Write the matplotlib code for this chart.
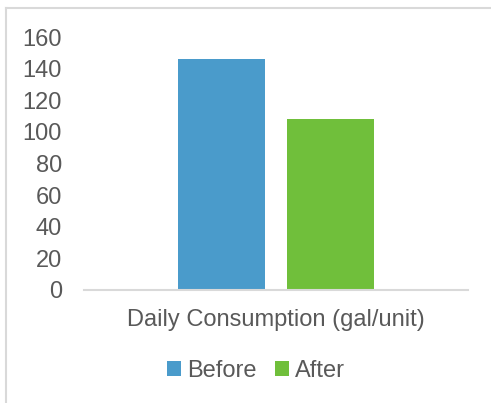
import matplotlib.pyplot as plt
from matplotlib.lines import Line2D

category = "Daily Consumption (gal/unit)"
series = ["Before", "After"]
values = [146, 108]
colors = ["#4A9BCB", "#70BF3B"]
yticks = [0, 20, 40, 60, 80, 100, 120, 140, 160]

plt.rcParams['font.family'] = ['Liberation Sans', 'DejaVu Sans']
text_color = "#595959"
fs = 17

fig = plt.figure(figsize=(4.91, 4.03), dpi=100)
ax = fig.add_axes([84/491, 1 - 290/403, 384/491, 253/403])

width = 87/384
offsets = [-0.142, 0.142]
for name, val, col, off in zip(series, values, colors, offsets):
    ax.bar(off, val, width=width, color=col, label=name)

ax.set_xlim(-0.5, 0.5)
ax.set_ylim(0, 160)
ax.set_yticks(yticks)
ax.set_yticklabels([str(t) for t in yticks], fontsize=fs, color=text_color)
ax.tick_params(axis='y', length=0, pad=16)
ax.set_xticks([0])
ax.set_xticklabels([category], fontsize=fs, color=text_color)
ax.tick_params(axis='x', length=0, pad=14)

for s in ['top', 'right', 'left']:
    ax.spines[s].set_visible(False)
ax.spines['bottom'].set_color("#D9D9D9")
ax.spines['bottom'].set_linewidth(1.5)

leg = fig.legend(loc='center', bbox_to_anchor=(256/491, 1 - 371/403), ncol=2,
                 frameon=False, fontsize=fs, handlelength=0.6, handleheight=0.6,
                 handletextpad=0.25, columnspacing=0.8)
for t in leg.get_texts():
    t.set_color(text_color)

# chart border (top and left visible)
fig.add_artist(Line2D([6/491, 6/491], [0, 1 - 7.5/403], transform=fig.transFigure,
                      color="#D9D9D9", linewidth=1.5))
fig.add_artist(Line2D([6/491, 1], [1 - 7.5/403, 1 - 7.5/403], transform=fig.transFigure,
                      color="#D9D9D9", linewidth=1.5))

fig.savefig("out.png", dpi=100)
